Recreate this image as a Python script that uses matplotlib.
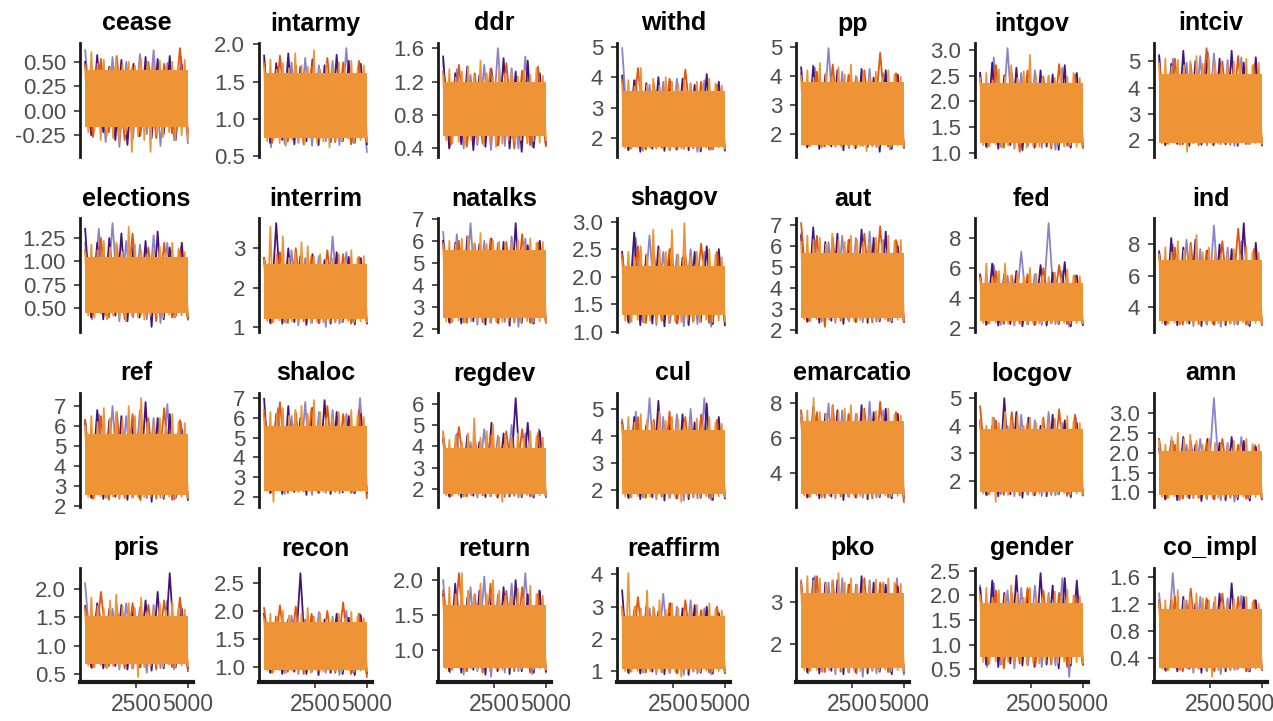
import numpy as np
import matplotlib
matplotlib.use("Agg")
import matplotlib.pyplot as plt

plt.rcParams['font.family'] = ['Liberation Sans', 'DejaVu Sans']

params = ["cease", "intarmy", "ddr", "withd", "pp", "intgov", "intciv",
          "elections", "interrim", "natalks", "shagov", "aut", "fed", "ind",
          "ref", "shaloc", "regdev", "cul", "emarcatio", "locgov", "amn",
          "pris", "recon", "return", "reaffirm", "pko", "gender", "co_impl"]

yticks = [[-0.25, 0, 0.25, 0.5], [0.5, 1.0, 1.5, 2.0], [0.4, 0.8, 1.2, 1.6], [2, 3, 4, 5],
          [2, 3, 4, 5], [1.0, 1.5, 2.0, 2.5, 3.0], [2, 3, 4, 5],
          [0.5, 0.75, 1.0, 1.25], [1, 2, 3], [2, 3, 4, 5, 6, 7], [1.0, 1.5, 2.0, 2.5, 3.0],
          [2, 3, 4, 5, 6, 7], [2, 4, 6, 8], [4, 6, 8],
          [2, 3, 4, 5, 6, 7], [2, 3, 4, 5, 6, 7], [2, 3, 4, 5, 6], [2, 3, 4, 5],
          [4, 6, 8], [2, 3, 4, 5], [1.0, 1.5, 2.0, 2.5, 3.0],
          [0.5, 1.0, 1.5, 2.0], [1.0, 1.5, 2.0, 2.5], [1.0, 1.5, 2.0], [1, 2, 3, 4],
          [2, 3], [0.5, 1.0, 1.5, 2.0, 2.5], [0.4, 0.8, 1.2, 1.6]]
ytick_labels = [["-0.25", "0.00", "0.25", "0.50"], ["0.5", "1.0", "1.5", "2.0"],
                ["0.4", "0.8", "1.2", "1.6"], ["2", "3", "4", "5"], ["2", "3", "4", "5"],
                ["1.0", "1.5", "2.0", "2.5", "3.0"], ["2", "3", "4", "5"],
                ["0.50", "0.75", "1.00", "1.25"], ["1", "2", "3"], ["2", "3", "4", "5", "6", "7"],
                ["1.0", "1.5", "2.0", "2.5", "3.0"], ["2", "3", "4", "5", "6", "7"],
                ["2", "4", "6", "8"], ["4", "6", "8"],
                ["2", "3", "4", "5", "6", "7"], ["2", "3", "4", "5", "6", "7"],
                ["2", "3", "4", "5", "6"], ["2", "3", "4", "5"], ["4", "6", "8"],
                ["2", "3", "4", "5"], ["1.0", "1.5", "2.0", "2.5", "3.0"],
                ["0.5", "1.0", "1.5", "2.0"], ["1.0", "1.5", "2.0", "2.5"], ["1.0", "1.5", "2.0"],
                ["1", "2", "3", "4"], ["2", "3"], ["0.5", "1.0", "1.5", "2.0", "2.5"],
                ["0.4", "0.8", "1.2", "1.6"]]
xticks = [2500, 5000]
n_iter = 5000

# dense middle of the orange chain (where the trace is solid)
core_lo = [-0.17, 0.75, 0.55, 1.72, 1.65, 1.20, 1.90,
           0.45, 1.20, 2.50, 1.30, 2.60, 2.45, 3.10,
           2.55, 2.30, 1.75, 1.85, 2.80, 1.60, 0.92,
           0.68, 0.95, 0.75, 1.05, 1.45, 0.75, 0.25]
core_hi = [0.42, 1.62, 1.20, 3.55, 3.80, 2.35, 4.50,
           1.05, 2.60, 5.60, 2.20, 5.70, 5.00, 7.00,
           5.60, 5.60, 3.90, 4.20, 7.00, 3.90, 2.05,
           1.52, 1.80, 1.65, 2.70, 3.20, 1.85, 1.12]

# visible peaks / troughs of each chain, in order of iteration
dark_purple = [
    [0.50, -0.25, 0.57, -0.22, 0.45, -0.30, 0.52, -0.35, 0.48, -0.26, 0.55, -0.28, 0.53, -0.24, 0.56, -0.30, 0.47, -0.22],
    [1.85, 0.68, 1.75, 0.72, 1.88, 0.66, 1.70, 0.70, 1.80, 0.65, 1.72, 0.69, 1.86, 0.70, 1.78, 0.68, 1.74, 0.66],
    [1.50, 0.40, 1.30, 0.45, 1.38, 0.38, 1.28, 0.42, 1.35, 0.44, 1.48, 0.40, 1.32, 0.36, 1.45, 0.41, 1.30, 0.45],
    [4.05, 1.60, 3.90, 1.55, 3.80, 1.65, 4.00, 1.58, 3.85, 1.62, 3.95, 1.60, 3.75, 1.56, 4.10, 1.63, 3.85, 1.60],
    [4.30, 1.55, 4.35, 1.50, 4.05, 1.58, 4.20, 1.45, 4.00, 1.52, 4.25, 1.56, 3.95, 1.40, 4.20, 1.50, 4.05, 1.55],
    [2.55, 1.12, 2.75, 1.08, 2.50, 1.15, 2.65, 1.05, 2.45, 1.10, 2.60, 1.12, 2.52, 1.06, 2.70, 1.10, 2.55, 1.14],
    [5.20, 1.80, 4.90, 1.85, 5.40, 1.78, 5.00, 1.82, 5.35, 1.80, 5.10, 1.84, 5.40, 1.78, 4.95, 1.86, 5.15, 1.80],
    [1.35, 0.40, 1.20, 0.38, 1.25, 0.42, 1.30, 0.36, 1.18, 0.40, 1.22, 0.30, 1.32, 0.38, 1.15, 0.42, 1.20, 0.40],
    [2.75, 1.10, 3.64, 1.08, 3.00, 1.12, 2.80, 1.05, 2.85, 1.10, 2.70, 1.08, 2.90, 1.12, 2.78, 1.06, 2.75, 1.10],
    [6.00, 2.30, 5.90, 2.25, 6.20, 2.35, 5.85, 2.20, 6.10, 2.30, 5.95, 2.15, 6.80, 2.28, 5.80, 2.25, 6.00, 2.30],
    [2.45, 1.18, 2.80, 1.12, 2.40, 1.15, 2.55, 1.10, 2.50, 1.16, 2.35, 1.12, 2.45, 1.18, 2.55, 1.14, 2.50, 1.12],
    [6.50, 2.40, 6.90, 2.35, 6.20, 2.45, 6.60, 2.30, 6.30, 2.40, 6.80, 2.35, 6.40, 2.42, 6.70, 2.38, 6.00, 2.40],
    [5.50, 2.20, 6.30, 2.15, 5.60, 2.25, 5.80, 2.10, 5.40, 2.20, 6.20, 2.15, 5.70, 2.25, 6.40, 2.10, 5.50, 2.20],
    [7.50, 2.90, 8.40, 2.85, 7.80, 2.95, 8.30, 2.80, 7.60, 2.90, 8.00, 2.85, 7.70, 2.92, 9.35, 2.80, 8.10, 2.90],
    [6.20, 2.40, 6.80, 2.35, 6.30, 2.45, 6.50, 2.30, 6.20, 2.40, 7.20, 2.20, 6.40, 2.35, 6.60, 2.40, 5.80, 2.30],
    [6.97, 2.20, 6.20, 2.15, 6.60, 2.25, 6.00, 2.10, 6.50, 2.20, 6.90, 2.15, 6.30, 2.22, 6.10, 2.18, 6.20, 2.20],
    [4.30, 1.65, 4.10, 1.60, 4.50, 1.68, 4.20, 1.62, 5.10, 1.60, 4.60, 1.65, 6.25, 1.62, 5.10, 1.60, 4.70, 1.65],
    [4.50, 1.70, 4.70, 1.65, 4.40, 1.72, 5.30, 1.60, 4.60, 1.68, 4.80, 1.65, 4.50, 1.70, 5.20, 1.62, 4.70, 1.68],
    [7.20, 2.60, 7.80, 2.55, 7.40, 2.65, 7.60, 2.45, 7.30, 2.60, 7.90, 2.50, 7.50, 2.62, 7.70, 2.55, 7.40, 2.60],
    [4.20, 1.50, 4.00, 1.45, 5.00, 1.52, 4.50, 1.40, 4.30, 1.48, 4.00, 1.45, 4.40, 1.52, 4.20, 1.42, 4.10, 1.50],
    [2.10, 0.82, 2.30, 0.80, 2.40, 0.85, 2.20, 0.78, 2.35, 0.84, 2.25, 0.80, 2.40, 0.82, 2.30, 0.79, 2.15, 0.84],
    [1.70, 0.62, 1.75, 0.60, 1.65, 0.64, 1.72, 0.58, 1.68, 0.62, 1.80, 0.56, 1.95, 0.60, 2.28, 0.62, 1.65, 0.60],
    [1.95, 0.90, 1.90, 0.88, 1.85, 0.92, 2.67, 0.88, 1.90, 0.86, 1.85, 0.90, 1.95, 0.88, 1.88, 0.86, 1.92, 0.90],
    [1.80, 0.70, 1.95, 0.68, 1.75, 0.72, 1.85, 0.65, 1.78, 0.70, 1.90, 0.66, 2.00, 0.70, 1.80, 0.68, 1.85, 0.70],
    [3.50, 0.95, 2.90, 0.92, 3.00, 0.98, 2.85, 0.90, 3.10, 0.95, 2.95, 0.88, 3.05, 0.95, 3.00, 0.92, 2.80, 0.95],
    [3.40, 1.35, 3.55, 1.32, 3.45, 1.38, 3.50, 1.30, 3.40, 1.35, 3.60, 1.32, 3.45, 1.36, 3.40, 1.30, 3.35, 1.35],
    [2.15, 0.60, 2.30, 0.55, 2.05, 0.62, 2.40, 0.58, 2.10, 0.55, 2.45, 0.60, 2.20, 0.52, 2.35, 0.58, 2.30, 0.60],
    [1.20, 0.22, 1.25, 0.20, 1.30, 0.24, 1.20, 0.18, 1.25, 0.22, 1.35, 0.20, 1.50, 0.24, 1.30, 0.20, 1.25, 0.22],
]
light_purple = [
    [0.62, -0.20, 0.48, -0.32, 0.55, -0.37, 0.50, -0.28, 0.58, -0.24, 0.62, -0.36, 0.49, -0.30, 0.55, -0.33],
    [1.80, 0.62, 1.70, 0.66, 1.76, 0.68, 1.82, 0.64, 1.72, 0.70, 1.78, 0.65, 1.95, 0.68, 1.68, 0.56],
    [1.45, 0.42, 1.35, 0.40, 1.28, 0.44, 1.40, 0.38, 1.60, 0.43, 1.36, 0.40, 1.50, 0.42, 1.30, 0.44],
    [4.95, 1.62, 3.90, 1.58, 3.75, 1.66, 3.85, 1.60, 3.95, 1.64, 3.80, 1.55, 3.90, 1.62, 3.70, 1.60],
    [4.10, 1.60, 4.30, 1.55, 4.96, 1.58, 4.15, 1.52, 4.00, 1.60, 4.25, 1.56, 4.10, 1.48, 4.05, 1.55],
    [2.50, 1.10, 2.85, 1.12, 3.03, 1.08, 2.55, 1.14, 2.60, 1.10, 2.48, 1.06, 2.65, 1.12, 2.50, 1.10],
    [5.25, 1.85, 5.10, 1.82, 4.95, 1.88, 5.20, 1.80, 5.30, 1.84, 5.05, 1.78, 5.15, 1.86, 4.90, 1.82],
    [1.20, 0.38, 1.35, 0.42, 1.41, 0.36, 1.22, 0.40, 1.18, 0.38, 1.28, 0.34, 1.20, 0.40, 1.15, 0.38],
    [2.70, 1.08, 2.85, 1.12, 2.95, 1.04, 2.75, 1.10, 2.80, 1.00, 3.30, 1.08, 2.90, 1.12, 2.70, 1.08],
    [6.40, 2.25, 6.30, 2.30, 6.80, 2.20, 6.00, 2.28, 5.90, 2.32, 6.20, 2.10, 6.10, 2.26, 5.95, 2.30],
    [2.35, 1.15, 2.70, 1.18, 2.75, 1.12, 2.45, 1.16, 2.40, 1.10, 2.50, 1.14, 2.45, 1.09, 2.40, 1.16],
    [6.60, 2.45, 6.30, 2.40, 6.20, 2.35, 6.50, 2.42, 6.40, 2.38, 6.70, 2.40, 6.30, 2.45, 6.20, 2.40],
    [5.60, 2.25, 6.20, 2.20, 5.50, 2.15, 7.10, 2.22, 5.60, 2.18, 9.00, 2.25, 5.80, 2.07, 5.50, 2.20],
    [7.60, 2.85, 8.00, 2.90, 8.30, 2.80, 7.70, 2.88, 9.20, 2.75, 7.80, 2.90, 8.20, 2.85, 7.60, 2.88],
    [6.30, 2.45, 6.60, 2.40, 7.00, 2.35, 6.50, 2.42, 6.80, 2.38, 6.40, 2.40, 7.10, 2.30, 6.20, 2.40],
    [6.20, 2.20, 6.50, 2.15, 6.10, 2.25, 6.80, 2.10, 6.30, 2.20, 6.40, 2.18, 6.20, 2.22, 7.00, 2.15],
    [4.40, 1.62, 4.60, 1.65, 4.20, 1.60, 4.80, 1.66, 4.50, 1.62, 5.00, 1.60, 4.60, 1.64, 4.80, 1.62],
    [4.60, 1.68, 4.90, 1.72, 5.40, 1.65, 4.70, 1.70, 4.80, 1.60, 5.00, 1.68, 5.40, 1.62, 4.60, 1.70],
    [7.50, 2.65, 7.30, 2.60, 8.00, 2.55, 7.60, 2.62, 7.40, 2.58, 8.10, 2.60, 7.60, 2.62, 7.30, 2.55],
    [4.10, 1.48, 4.30, 1.52, 4.00, 1.45, 4.40, 1.50, 4.20, 1.46, 4.50, 1.48, 4.10, 1.52, 4.30, 1.48],
    [2.25, 0.84, 2.30, 0.80, 2.20, 0.85, 2.35, 0.82, 3.38, 0.80, 2.25, 0.76, 2.40, 0.84, 2.20, 0.82],
    [2.10, 0.60, 1.70, 0.62, 1.65, 0.58, 1.75, 0.60, 1.68, 0.52, 1.72, 0.60, 1.80, 0.58, 1.70, 0.62],
    [1.95, 0.92, 1.88, 0.90, 1.92, 0.88, 1.85, 0.92, 1.98, 0.90, 1.90, 0.86, 2.00, 0.90, 1.95, 0.88],
    [2.00, 0.68, 1.85, 0.65, 1.90, 0.70, 2.05, 0.62, 1.80, 0.68, 1.95, 0.70, 2.10, 0.66, 1.85, 0.68],
    [2.90, 0.92, 3.00, 0.95, 2.95, 0.90, 3.40, 0.94, 3.00, 0.88, 3.20, 0.92, 2.95, 0.90, 2.85, 0.94],
    [3.50, 1.32, 3.60, 1.36, 3.45, 1.30, 3.55, 1.34, 3.40, 1.24, 3.50, 1.32, 3.45, 1.35, 3.55, 1.30],
    [2.20, 0.55, 2.25, 0.60, 2.10, 0.52, 2.15, 0.58, 2.20, 0.55, 2.05, 0.58, 2.35, 0.35, 2.10, 0.60],
    [1.35, 0.20, 1.65, 0.22, 1.25, 0.18, 1.30, 0.20, 1.22, 0.16, 1.28, 0.22, 1.32, 0.20, 1.25, 0.22],
]
red_orange = [
    [0.47, -0.27, 0.53, -0.22, 0.56, -0.30, 0.45, -0.25, 0.50, -0.28, 0.48, -0.23, 0.64, -0.26],
    [1.75, 0.68, 1.85, 0.70, 1.72, 0.66, 1.70, 0.72, 1.82, 0.69, 1.76, 0.66, 1.78, 0.70],
    [1.32, 0.45, 1.40, 0.42, 1.30, 0.46, 1.36, 0.44, 1.42, 0.40, 1.33, 0.44, 1.38, 0.43],
    [3.90, 1.66, 4.30, 1.62, 3.80, 1.68, 3.95, 1.64, 4.25, 1.66, 3.85, 1.62, 3.75, 1.65],
    [4.00, 1.60, 4.15, 1.58, 4.40, 1.62, 4.05, 1.56, 4.20, 1.60, 4.80, 1.58, 4.10, 1.55],
    [2.45, 1.14, 2.70, 1.10, 2.55, 1.02, 2.60, 1.12, 2.48, 1.08, 2.72, 1.14, 2.52, 1.10],
    [4.95, 1.86, 5.10, 1.84, 4.90, 1.80, 5.50, 1.86, 5.00, 1.82, 5.20, 1.84, 4.85, 1.86],
    [1.12, 0.42, 1.25, 0.40, 1.18, 0.38, 1.30, 0.42, 1.15, 0.36, 1.20, 0.40, 1.12, 0.38],
    [2.75, 1.12, 2.90, 1.10, 3.00, 1.14, 2.80, 1.10, 2.95, 1.12, 2.85, 1.08, 2.78, 1.12],
    [5.90, 2.32, 6.00, 2.28, 5.85, 2.30, 6.10, 2.25, 5.95, 2.30, 6.30, 2.28, 5.90, 2.32],
    [2.40, 1.18, 2.55, 1.16, 2.45, 1.20, 2.50, 1.15, 2.40, 1.18, 2.60, 1.16, 2.45, 1.18],
    [7.10, 2.42, 6.50, 2.16, 6.40, 2.45, 6.30, 2.40, 6.60, 2.38, 6.95, 2.42, 6.30, 2.40],
    [5.40, 2.30, 5.80, 2.25, 5.50, 2.28, 5.60, 2.22, 6.00, 2.30, 6.20, 2.25, 5.50, 2.28],
    [7.40, 2.95, 7.80, 2.90, 8.10, 2.92, 7.60, 2.88, 8.20, 2.95, 9.00, 2.90, 7.70, 2.92],
    [6.30, 2.35, 6.50, 2.30, 6.70, 2.40, 6.60, 2.28, 6.40, 2.35, 6.90, 2.30, 6.30, 2.38],
    [6.40, 2.25, 6.80, 2.20, 6.30, 2.28, 6.50, 2.22, 6.60, 2.25, 6.20, 2.20, 6.40, 1.95],
    [4.60, 1.68, 4.90, 1.65, 4.40, 1.70, 4.50, 1.66, 4.70, 1.68, 4.80, 1.65, 4.60, 1.68],
    [4.50, 1.72, 4.70, 1.70, 4.60, 1.74, 4.90, 1.68, 4.70, 1.72, 4.80, 1.70, 4.60, 1.72],
    [7.60, 2.62, 7.50, 2.58, 7.90, 2.65, 7.40, 2.60, 7.70, 2.55, 8.10, 2.60, 7.50, 2.35],
    [4.70, 1.52, 4.20, 1.50, 4.50, 1.48, 4.10, 1.52, 4.30, 1.50, 4.60, 1.46, 4.40, 1.50],
    [2.35, 0.86, 2.20, 0.84, 2.30, 0.86, 2.25, 0.82, 2.35, 0.86, 2.20, 0.84, 2.15, 0.86],
    [1.68, 0.62, 1.95, 0.64, 1.70, 0.60, 1.75, 0.62, 1.72, 0.58, 1.80, 0.62, 1.85, 0.55],
    [2.05, 0.90, 2.10, 0.92, 2.08, 0.88, 1.95, 0.92, 2.00, 0.90, 2.15, 0.88, 1.95, 0.83],
    [1.85, 0.72, 2.10, 0.70, 1.80, 0.68, 1.95, 0.72, 1.85, 0.70, 1.90, 0.68, 1.80, 0.72],
    [3.00, 0.98, 3.30, 0.95, 2.95, 0.96, 3.10, 0.92, 3.20, 0.98, 2.90, 0.95, 3.00, 0.96],
    [3.45, 1.38, 3.60, 1.35, 3.50, 1.36, 3.40, 1.32, 3.55, 1.38, 3.45, 1.35, 3.40, 1.36],
    [2.00, 0.60, 2.10, 0.52, 2.05, 0.62, 2.15, 0.58, 2.10, 0.60, 2.05, 0.55, 2.00, 0.60],
    [1.25, 0.22, 1.30, 0.20, 1.42, 0.24, 1.28, 0.20, 1.35, 0.22, 1.30, 0.20, 1.25, 0.22],
]
orange = [
    [0.45, -0.22, 0.60, -0.20, 0.48, -0.30, 0.52, -0.25, 0.44, -0.28, 0.55, -0.32, 0.47, -0.24, 0.50, -0.42, 0.46, -0.26, 0.53, -0.30, 0.49, -0.42, 0.47, -0.24, 0.51, -0.27, 0.44, -0.22, 0.50, -0.30, 0.46, -0.25, 0.52, -0.28],
    [1.70, 0.70, 1.80, 0.72, 1.66, 0.68, 1.75, 0.64, 1.68, 0.72, 1.88, 0.70, 1.72, 0.66, 1.70, 0.74, 1.92, 0.68, 1.66, 0.70, 1.74, 0.62, 1.68, 0.72, 1.76, 0.70, 1.70, 0.74, 1.78, 0.68, 1.66, 0.72, 1.72, 0.70],
    [1.28, 0.50, 1.35, 0.46, 1.25, 0.48, 1.32, 0.45, 1.38, 0.50, 1.27, 0.47, 1.45, 0.44, 1.30, 0.48, 1.26, 0.42, 1.34, 0.46, 1.30, 0.50, 1.30, 0.48, 1.26, 0.50, 1.33, 0.46, 1.28, 0.49, 1.36, 0.47, 1.27, 0.50],
    [3.80, 1.68, 3.90, 1.65, 3.70, 1.70, 4.30, 1.64, 3.75, 1.68, 3.95, 1.66, 3.72, 1.70, 4.00, 1.62, 3.85, 1.68, 3.78, 1.66, 3.90, 1.70, 3.75, 1.70, 3.85, 1.66, 3.70, 1.68, 3.95, 1.64, 3.80, 1.70, 3.72, 1.66],
    [4.00, 1.62, 4.20, 1.60, 3.95, 1.65, 4.45, 1.58, 4.10, 1.62, 3.98, 1.60, 4.30, 1.56, 4.05, 1.62, 4.40, 1.58, 3.95, 1.60, 4.10, 1.42, 4.00, 1.62, 4.15, 1.60, 3.95, 1.64, 4.20, 1.58, 4.05, 1.62, 3.98, 1.60],
    [2.45, 1.15, 2.55, 1.12, 2.40, 1.16, 2.62, 1.10, 2.48, 1.14, 2.70, 1.12, 2.45, 1.18, 2.58, 1.10, 2.90, 1.14, 2.50, 1.12, 2.45, 1.16, 2.50, 1.14, 2.45, 1.16, 2.60, 1.12, 2.48, 1.15, 2.55, 1.12, 2.45, 1.16],
    [4.90, 1.88, 5.10, 1.85, 4.80, 1.90, 5.05, 1.82, 4.85, 1.55, 5.00, 1.88, 5.20, 1.85, 4.90, 1.90, 5.15, 1.84, 4.95, 1.86, 4.85, 1.88, 4.85, 1.88, 5.00, 1.86, 4.90, 1.90, 5.10, 1.84, 4.85, 1.88, 4.95, 1.86],
    [1.10, 0.42, 1.18, 0.40, 1.12, 0.44, 1.22, 0.38, 1.15, 0.42, 1.20, 0.40, 1.10, 0.36, 1.37, 0.42, 1.18, 0.40, 1.12, 0.38, 1.08, 0.42, 1.12, 0.42, 1.16, 0.40, 1.10, 0.43, 1.20, 0.40, 1.14, 0.42, 1.10, 0.41],
    [2.70, 1.15, 3.55, 1.12, 2.85, 1.16, 3.30, 1.10, 2.75, 1.14, 2.90, 1.12, 3.15, 1.16, 3.05, 1.10, 2.80, 1.14, 2.85, 1.12, 2.70, 1.12, 2.75, 1.14, 2.85, 1.12, 2.70, 1.15, 2.95, 1.12, 2.75, 1.14, 2.80, 1.13],
    [5.80, 2.35, 6.00, 2.32, 5.85, 2.38, 6.10, 2.30, 6.20, 2.35, 5.90, 2.32, 6.35, 2.38, 5.85, 2.30, 6.00, 2.35, 5.95, 2.32, 5.85, 2.34, 5.90, 2.34, 6.05, 2.32, 5.85, 2.36, 6.10, 2.32, 5.90, 2.35, 5.95, 2.33],
    [2.30, 1.20, 2.45, 1.18, 2.35, 1.22, 2.55, 1.16, 2.40, 1.20, 2.85, 1.18, 2.50, 1.22, 2.45, 1.16, 2.85, 1.20, 2.40, 1.18, 2.97, 1.20, 2.35, 1.20, 2.45, 1.18, 2.30, 1.22, 2.50, 1.18, 2.40, 1.20, 2.35, 1.19],
    [6.20, 2.50, 6.50, 2.45, 6.30, 2.52, 6.40, 2.48, 6.10, 2.50, 6.60, 2.45, 6.30, 2.48, 6.20, 2.50, 6.50, 2.45, 6.30, 2.48, 6.20, 2.50, 6.20, 2.50, 6.40, 2.48, 6.15, 2.52, 6.50, 2.46, 6.25, 2.50, 6.30, 2.48],
    [5.30, 2.32, 6.30, 2.28, 5.40, 2.35, 5.80, 2.30, 6.30, 2.28, 5.50, 2.32, 5.70, 2.30, 5.40, 2.26, 6.00, 2.32, 5.60, 2.30, 5.50, 2.34, 5.40, 2.32, 5.70, 2.30, 5.35, 2.34, 5.90, 2.30, 5.50, 2.32, 5.45, 2.33],
    [7.30, 3.00, 7.80, 2.95, 7.50, 3.02, 8.20, 2.96, 7.60, 3.00, 7.90, 2.95, 8.60, 3.02, 7.50, 2.96, 7.80, 3.00, 7.60, 2.98, 7.40, 3.00, 7.40, 3.00, 7.70, 2.96, 7.35, 3.02, 7.90, 2.96, 7.50, 3.00, 7.45, 2.98],
    [6.00, 2.45, 6.50, 2.40, 6.20, 2.48, 6.90, 2.42, 6.40, 2.45, 6.70, 2.40, 6.30, 2.45, 7.00, 2.40, 6.50, 2.44, 7.40, 2.42, 6.20, 2.45, 6.10, 2.45, 6.40, 2.42, 6.00, 2.46, 6.60, 2.42, 6.20, 2.45, 6.15, 2.44],
    [6.00, 2.30, 6.30, 1.75, 6.20, 2.32, 6.50, 2.28, 6.10, 2.30, 6.40, 2.26, 6.60, 2.32, 6.20, 2.28, 6.90, 2.30, 6.30, 2.26, 6.00, 2.30, 6.00, 2.30, 6.30, 2.28, 6.05, 2.32, 6.40, 2.28, 6.10, 2.30, 6.05, 2.29],
    [4.70, 1.70, 4.30, 1.68, 4.50, 1.72, 4.20, 1.66, 4.60, 1.70, 5.30, 1.68, 4.40, 1.72, 4.70, 1.66, 5.00, 1.70, 4.40, 1.40, 4.50, 1.68, 4.40, 1.70, 4.60, 1.68, 4.35, 1.72, 4.70, 1.68, 4.45, 1.70, 4.40, 1.69],
    [4.40, 1.75, 4.70, 1.72, 4.50, 1.76, 4.80, 1.70, 4.60, 1.74, 4.50, 1.72, 4.90, 1.76, 4.55, 1.70, 4.70, 1.74, 4.60, 1.55, 4.50, 1.74, 4.45, 1.75, 4.65, 1.72, 4.40, 1.76, 4.70, 1.72, 4.50, 1.75, 4.45, 1.74],
    [7.30, 2.70, 7.60, 2.65, 8.30, 2.72, 7.50, 2.68, 7.40, 2.70, 7.80, 2.65, 7.50, 2.72, 7.70, 2.66, 7.90, 2.70, 7.40, 2.68, 7.60, 2.70, 7.30, 2.70, 7.55, 2.68, 7.25, 2.72, 7.70, 2.68, 7.35, 2.70, 7.30, 2.69],
    [4.20, 1.55, 4.00, 1.52, 4.30, 1.25, 4.10, 1.55, 4.50, 1.50, 4.20, 1.54, 4.40, 1.52, 4.00, 1.55, 4.30, 1.50, 4.10, 1.54, 4.20, 1.55, 4.10, 1.55, 4.25, 1.53, 4.05, 1.56, 4.35, 1.52, 4.15, 1.55, 4.10, 1.54],
    [2.30, 0.88, 2.20, 0.86, 2.40, 0.90, 2.50, 0.86, 2.35, 0.88, 2.45, 0.86, 2.30, 0.90, 2.20, 0.86, 2.35, 0.88, 2.25, 0.86, 2.20, 0.88, 2.20, 0.88, 2.30, 0.87, 2.18, 0.89, 2.35, 0.86, 2.22, 0.88, 2.20, 0.87],
    [1.60, 0.65, 1.85, 0.62, 1.70, 0.66, 1.65, 0.60, 1.80, 0.64, 1.90, 0.62, 1.70, 0.66, 1.75, 0.60, 1.65, 0.45, 1.85, 0.62, 1.60, 0.64, 1.65, 0.65, 1.75, 0.63, 1.62, 0.66, 1.78, 0.63, 1.66, 0.65, 1.64, 0.64],
    [1.85, 0.94, 1.95, 0.92, 1.90, 0.95, 2.00, 0.90, 1.92, 0.94, 1.88, 0.92, 1.95, 0.95, 2.05, 0.90, 1.90, 0.94, 1.95, 0.92, 1.85, 0.94, 1.88, 0.94, 1.95, 0.93, 1.86, 0.95, 1.98, 0.92, 1.90, 0.94, 1.87, 0.93],
    [1.75, 0.74, 1.90, 0.72, 1.80, 0.75, 2.10, 0.70, 1.85, 0.74, 1.78, 0.72, 1.95, 0.75, 1.80, 0.70, 2.00, 0.74, 1.85, 0.72, 1.78, 0.74, 1.78, 0.74, 1.88, 0.73, 1.76, 0.75, 1.92, 0.72, 1.80, 0.74, 1.78, 0.73],
    [2.90, 1.00, 4.04, 0.98, 3.00, 1.00, 2.95, 0.96, 3.50, 1.00, 3.00, 0.98, 3.20, 1.00, 2.90, 0.96, 3.10, 1.00, 2.95, 0.82, 2.85, 1.00, 2.90, 1.00, 3.05, 0.98, 2.85, 1.01, 3.10, 0.98, 2.92, 1.00, 2.88, 0.99],
    [3.40, 1.40, 3.60, 1.38, 3.50, 1.40, 3.55, 1.36, 3.45, 1.40, 3.50, 1.38, 3.67, 1.40, 3.45, 1.36, 3.55, 1.40, 3.40, 1.38, 3.45, 1.40, 3.42, 1.40, 3.52, 1.38, 3.40, 1.41, 3.55, 1.38, 3.45, 1.40, 3.42, 1.39],
    [2.00, 0.65, 2.15, 0.62, 1.95, 0.66, 2.10, 0.60, 2.00, 0.65, 2.20, 0.62, 2.05, 0.66, 1.95, 0.60, 2.15, 0.65, 2.00, 0.62, 1.95, 0.65, 1.98, 0.65, 2.08, 0.63, 1.96, 0.66, 2.12, 0.62, 2.00, 0.65, 1.98, 0.64],
    [1.20, 0.24, 1.25, 0.22, 1.30, 0.25, 1.40, 0.22, 1.25, 0.24, 1.30, 0.22, 1.35, 0.25, 1.28, 0.22, 1.25, 0.12, 1.30, 0.22, 1.22, 0.24, 1.20, 0.24, 1.27, 0.23, 1.18, 0.25, 1.30, 0.22, 1.22, 0.24, 1.20, 0.23],
]

chain_colors = ["#8E83C6", "#45157D", "#E4560C", "#EE9436"]

W, H = 1273, 721
col_x = [80, 259, 438, 617, 796, 975, 1154]
row_top = [43, 218, 393, 568]
panel_w, panel_h = 113, 114

fig = plt.figure(figsize=(W / 100, H / 100), dpi=100)

for i, name in enumerate(params):
    r, c = divmod(i, 7)
    ax = fig.add_axes([col_x[c] / W, 1 - (row_top[r] + panel_h) / H, panel_w / W, panel_h / H])

    series = [light_purple[i], dark_purple[i], red_orange[i], orange[i]]
    for k, vals in enumerate(series):
        x = np.linspace(1, n_iter, len(vals))
        ax.plot(x, vals, color=chain_colors[k], lw=1.3, zorder=2 if k < 3 else 4)
    # solid body of the last (orange) chain, drawn over the others
    ax.fill_between([1, n_iter], core_lo[i], core_hi[i], color=chain_colors[3], lw=0, zorder=3)

    allv = np.concatenate([np.array(v) for v in series])
    lo, hi = allv.min(), allv.max()
    ax.set_ylim(lo - 0.05 * (hi - lo), hi + 0.05 * (hi - lo))
    ax.set_xlim(1 - 0.05 * (n_iter - 1), n_iter + 0.05 * (n_iter - 1))

    ax.set_yticks(yticks[i])
    ax.set_yticklabels(ytick_labels[i])
    ax.set_title(name, fontsize=18, fontweight='bold', pad=9)

    for s in ["top", "right"]:
        ax.spines[s].set_visible(False)
    ax.spines["left"].set_linewidth(2.0)
    ax.spines["left"].set_color("#1A1A1A")
    ax.tick_params(axis='y', length=4, width=1.2, color="#333333",
                   labelsize=16, labelcolor="#4D4D4D", pad=6)
    if r == 3:
        ax.spines["bottom"].set_linewidth(3.0)
        ax.spines["bottom"].set_color("#1A1A1A")
        ax.set_xticks(xticks)
        ax.set_xticklabels([str(t) for t in xticks])
        ax.tick_params(axis='x', length=4, width=1.2, color="#333333",
                       labelsize=16.5, labelcolor="#4D4D4D", pad=4)
    else:
        ax.spines["bottom"].set_visible(False)
        ax.set_xticks([])

fig.savefig("out.png", dpi=100)
